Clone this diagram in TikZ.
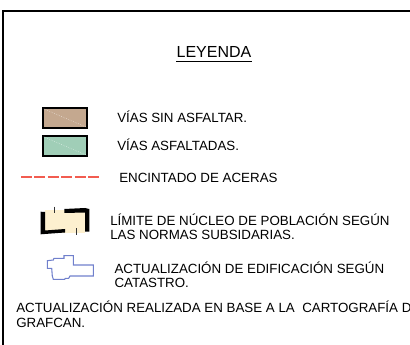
\documentclass[tikz,border=0pt]{standalone}
\usepackage{fontspec}
\setmainfont{Liberation Sans}
\usetikzlibrary{positioning}
\definecolor{sinasf}{RGB}{196,168,143}
\definecolor{asfalt}{RGB}{160,206,183}
\definecolor{acera}{RGB}{242,92,80}
\definecolor{nucleo}{RGB}{253,240,207}
\definecolor{catastro}{RGB}{112,128,204}

\begin{document}
\begin{tikzpicture}[x=0.75pt,y=-0.75pt,
    legtext/.style={anchor=base west,inner sep=0pt,font=\fontsize{10}{12}\selectfont},
    swatch/.style={draw=black,line width=1.7pt}]

    \useasboundingbox (0,0) rectangle (410,345);

    % Frame
    \draw[line width=1.5pt] (3,346) -- (3,11) -- (411,11);

    % Title
    \node[anchor=base,inner sep=0pt,font=\fontsize{12}{14}\selectfont] (titulo) at (214,58) {LEYENDA};
    \draw[line width=0.8pt] ([yshift=-2.4pt]titulo.base west) -- ([yshift=-2.4pt]titulo.base east);

    % Swatches
    \filldraw[swatch,fill=sinasf] (43,108) rectangle (87,128);
    \draw[white!70!sinasf,densely dotted,thin] (44,109) -- (86,127);
    \filldraw[swatch,fill=asfalt] (43,136) rectangle (87,156);
    \draw[white!70!asfalt,densely dotted,thin] (44,137) -- (86,155);

    \draw[acera,line width=2.2pt,dash pattern=on 8.1pt off 2pt] (21,177) -- (99,177);

    % Nucleo symbol
    \fill[nucleo] (45,210.5) rectangle (85,233);
    \fill[black] (40.7,211.7) -- (45,212) -- (45,230.5) -- (65,229) -- (65,232.5) -- (40.7,234.3) -- cycle;
    \fill[black] (64.3,209) -- (85,208) -- (89.3,209) -- (89.3,231.7) -- (85,231.5) -- (85,212.5) -- (64.3,213) -- cycle;
    \draw[black!80,line width=0.6pt] (54,206.7) -- (54,213.3);
    \draw[black!80,line width=0.6pt] (76,228.3) -- (76,234.6);

    % Catastro symbol
    \draw[catastro,line width=0.8pt] (47.3,260.7) -- (53.3,260) -- (54,258.3) -- (64,258.3) -- (64,255.7)
        -- (73.3,255.7) -- (73.3,265) -- (93.3,265) -- (93.3,276) -- (70,276) -- (68.7,278.3)
        -- (65.3,278.3) -- (64.7,279.3) -- (53.3,279.3) -- (52.3,276) -- (51.7,268.3) -- (47.3,268.3) -- cycle;

    % Text
    \node[legtext] (sinasfaltar) at (117,123) {VÍAS SIN ASFALTAR.};
    \node[legtext] (asfaltadas) at (117,151) {VÍAS ASFALTADAS.};
    \node[legtext] (aceras) at (119,182.5) {ENCINTADO DE ACERAS};

    \node[legtext] (limite) at (110,225) {LÍMITE DE NÚCLEO DE POBLACIÓN SEGÚN};
    \node[legtext] (normas) at (110,239) {LAS NORMAS SUBSIDARIAS.};

    \node[legtext] (edific) at (114.3,273.3) {ACTUALIZACIÓN DE EDIFICACIÓN SEGÚN};
    \node[legtext] (catastr) at (114.3,287) {CATASTRO.};

    \node[legtext] (nota) at (16,312.7) {ACTUALIZACIÓN REALIZADA EN BASE A LA\ \ CARTOGRAFÍA DE};
    \node[legtext] (grafcan) at (16,327.3) {GRAFCAN.};

\end{tikzpicture}
\end{document}
